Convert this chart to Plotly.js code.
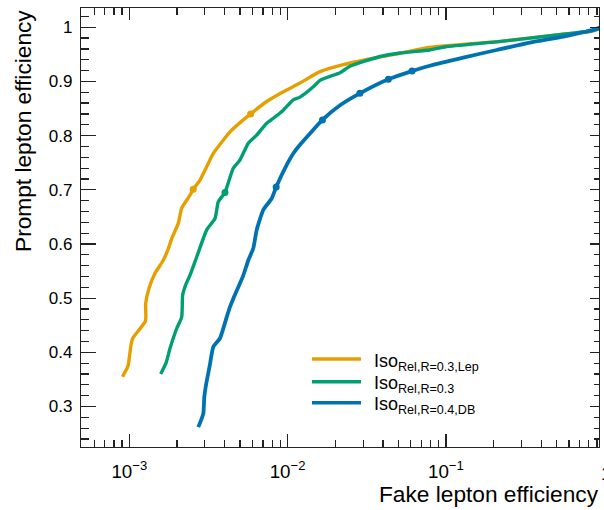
<!DOCTYPE html>
<html>
<head>
<meta charset="utf-8">
<script src="https://cdn.plot.ly/plotly-3.0.1.min.js"></script>
<style>html,body{margin:0;padding:0;background:#fff;}#chart{width:604px;height:510px;}</style>
</head>
<body>
<div id="chart"></div>
<script>
// ---- data ----
const seriesNames = ["Iso<sub>Rel,R=0.3,Lep</sub>", "Iso<sub>Rel,R=0.3</sub>", "Iso<sub>Rel,R=0.4,DB</sub>"];
const seriesColors = ["#E69F00", "#009E73", "#0072B2"];

const orangeX = [0.000906, 0.000982, 0.00100, 0.001025, 0.001051, 0.001266, 0.001269, 0.001331, 0.001454, 0.001640, 0.001763, 0.001853, 0.002039, 0.002143, 0.002417, 0.002535, 0.002797, 0.003393, 0.003633, 0.004326, 0.00584, 0.007379, 0.009393, 0.01197, 0.01602, 0.02248, 0.0316, 0.05129, 0.07934, 0.2197, 0.5515, 0.8134, 1.0];
const orangeY = [0.355, 0.375, 0.390, 0.413, 0.426, 0.458, 0.490, 0.518, 0.546, 0.570, 0.591, 0.610, 0.638, 0.666, 0.690, 0.701, 0.718, 0.767, 0.779, 0.807, 0.840, 0.863, 0.881, 0.897, 0.918, 0.931, 0.9405, 0.952, 0.963, 0.974, 0.987, 0.992, 1.0];

const greenX = [0.001579, 0.001710, 0.001807, 0.001993, 0.002143, 0.002174, 0.002281, 0.002417, 0.002666, 0.003083, 0.003479, 0.003650, 0.00402, 0.004539, 0.005003, 0.005646, 0.006381, 0.007379, 0.008121, 0.009393, 0.01086, 0.01197, 0.01453, 0.01602, 0.02143, 0.02478, 0.03835, 0.05129, 0.0793, 0.0997, 0.2094, 0.5515, 0.813, 1.0];
const greenY = [0.360, 0.381, 0.407, 0.444, 0.465, 0.506, 0.526, 0.542, 0.576, 0.626, 0.647, 0.678, 0.695, 0.740, 0.755, 0.786, 0.801, 0.823, 0.832, 0.847, 0.866, 0.871, 0.890, 0.902, 0.916, 0.928, 0.946, 0.9525, 0.958, 0.964, 0.973, 0.987, 0.993, 1.0];

const blueX = [0.002729, 0.002935, 0.002978, 0.003066, 0.003211, 0.003393, 0.003741, 0.004123, 0.004326, 0.004539, 0.005251, 0.005646, 0.006071, 0.006381, 0.007023, 0.007934, 0.00847, 0.00987, 0.01086, 0.01197, 0.01385, 0.0166, 0.02143, 0.0286, 0.0433, 0.0611, 0.0793, 0.1288, 0.2094, 0.3399, 0.5515, 0.7379, 0.8535, 0.964, 1.0];
const blueY = [0.262, 0.287, 0.318, 0.343, 0.373, 0.410, 0.426, 0.465, 0.484, 0.499, 0.542, 0.570, 0.592, 0.626, 0.663, 0.684, 0.705, 0.746, 0.767, 0.783, 0.804, 0.829, 0.856, 0.878, 0.904, 0.919, 0.929, 0.944, 0.958, 0.9716, 0.9826, 0.9908, 0.995, 1.001, 1.004];

// working points marked on the curves
const orangeMarkX = [0.002535, 0.00584];
const orangeMarkY = [0.701, 0.840];
const greenMarkX = [0.00402];
const greenMarkY = [0.695];
const blueMarkX = [0.00847, 0.0166, 0.0286, 0.0433, 0.0611];
const blueMarkY = [0.705, 0.829, 0.878, 0.904, 0.919];

const xTitle = "Fake lepton efficiency";
const yTitle = "Prompt lepton efficiency";
const xRangeLog = [-3.305, -0.033];
const yRange = [0.2253, 1.0355];

// ---- layout helpers ----
const W = 604, H = 510;
const L = 81, R = 599, T = 8, B = 447;
const fx = px => (px - L) / (R - L);
const fy = py => (B - py) / (B - T);
const FONT = "Liberation Sans, Arial, Helvetica, sans-serif";

const curves = [[orangeX, orangeY], [greenX, greenY], [blueX, blueY]];
const marks = [[orangeMarkX, orangeMarkY], [greenMarkX, greenMarkY], [blueMarkX, blueMarkY]];
const widths = [3.4, 3.4, 3.8];

const traces = [];
curves.forEach((c, i) => {
  traces.push({x: c[0], y: c[1], type: 'scatter', mode: 'lines', name: seriesNames[i],
    line: {color: seriesColors[i], width: widths[i], shape: 'spline', smoothing: 0.5}, showlegend: false, hoverinfo: 'skip'});
  traces.push({x: marks[i][0], y: marks[i][1], type: 'scatter', mode: 'markers',
    marker: {color: seriesColors[i], size: 7}, showlegend: false, hoverinfo: 'skip'});
});
// empty trace to host the mirrored tick axes (top / right)
traces.push({x: [], y: [], xaxis: 'x2', yaxis: 'y2', type: 'scatter', mode: 'lines', showlegend: false, hoverinfo: 'skip'});

const axColor = '#222';
const layout = {
  width: W, height: H, autosize: false,
  margin: {l: L, r: W - R, t: T, b: H - B, pad: 0},
  paper_bgcolor: '#fff', plot_bgcolor: '#fff',
  font: {family: FONT, color: '#000'},
  showlegend: false,
  xaxis: {type: 'log', range: xRangeLog, dtick: 1, exponentformat: 'power',
    showgrid: false, zeroline: false, showline: true, mirror: true, linecolor: axColor, linewidth: 1.2,
    ticks: 'inside', ticklen: 13, tickwidth: 1.2, tickcolor: axColor,
    minor: {ticks: 'inside', ticklen: 7, tickwidth: 1.2, tickcolor: axColor, dtick: 'D1', showgrid: false},
    tickfont: {size: 15, family: FONT, color: '#000'}, ticklabelstandoff: 8},
  yaxis: {range: yRange, dtick: 0.1, tick0: 0,
    showgrid: false, zeroline: false, showline: true, mirror: true, linecolor: axColor, linewidth: 1.2,
    ticks: 'inside', ticklen: 15, tickwidth: 1.2, tickcolor: axColor,
    minor: {ticks: 'inside', ticklen: 8, tickwidth: 1.2, tickcolor: axColor, dtick: 0.02, showgrid: false},
    tickfont: {size: 17, family: FONT, color: '#000'}, ticklabelstandoff: 4},
  xaxis2: {type: 'log', range: xRangeLog, dtick: 1, overlaying: 'x', side: 'top', anchor: 'y2',
    showgrid: false, zeroline: false, showline: false, showticklabels: false,
    ticks: 'inside', ticklen: 12, tickwidth: 1.2, tickcolor: axColor,
    minor: {ticks: 'inside', ticklen: 7, tickwidth: 1.2, tickcolor: axColor, dtick: 'D1', showgrid: false}},
  yaxis2: {range: yRange, dtick: 0.1, tick0: 0, overlaying: 'y', side: 'right', anchor: 'x2',
    showgrid: false, zeroline: false, showline: false, showticklabels: false,
    ticks: 'inside', ticklen: 9, tickwidth: 1.2, tickcolor: axColor,
    minor: {ticks: 'inside', ticklen: 5, tickwidth: 1.2, tickcolor: axColor, dtick: 0.02, showgrid: false}},
  shapes: [],
  annotations: [
    {text: yTitle, textangle: -90, xref: 'paper', yref: 'paper', x: fx(23), y: fy(8),
      xanchor: 'center', yanchor: 'top', showarrow: false, font: {size: 22.7, family: FONT, color: '#000'}},
    {text: xTitle, xref: 'paper', yref: 'paper', x: fx(601), y: fy(509),
      xanchor: 'right', yanchor: 'bottom', showarrow: false, font: {size: 22.7, family: FONT, color: '#000'}},
    {text: '1', xref: 'paper', yref: 'paper', x: fx(606), y: fy(473),
      xanchor: 'center', yanchor: 'middle', showarrow: false, font: {size: 18.7, family: FONT, color: '#000'}}
  ]
};

// hand-made legend (ROOT style)
const legRows = [359, 381.7, 402.7];
legRows.forEach((py, i) => {
  layout.shapes.push({type: 'line', xref: 'paper', yref: 'paper', x0: fx(312), x1: fx(361), y0: fy(py), y1: fy(py),
    line: {color: seriesColors[i], width: 3.4}});
  layout.annotations.push({text: seriesNames[i], xref: 'paper', yref: 'paper', x: fx(372), y: fy(py + 3),
    xanchor: 'left', yanchor: 'middle', showarrow: false, font: {size: 18, family: FONT, color: '#000'}});
});

Plotly.newPlot('chart', traces, layout, {staticPlot: true, displayModeBar: false});
</script>
</body>
</html>
